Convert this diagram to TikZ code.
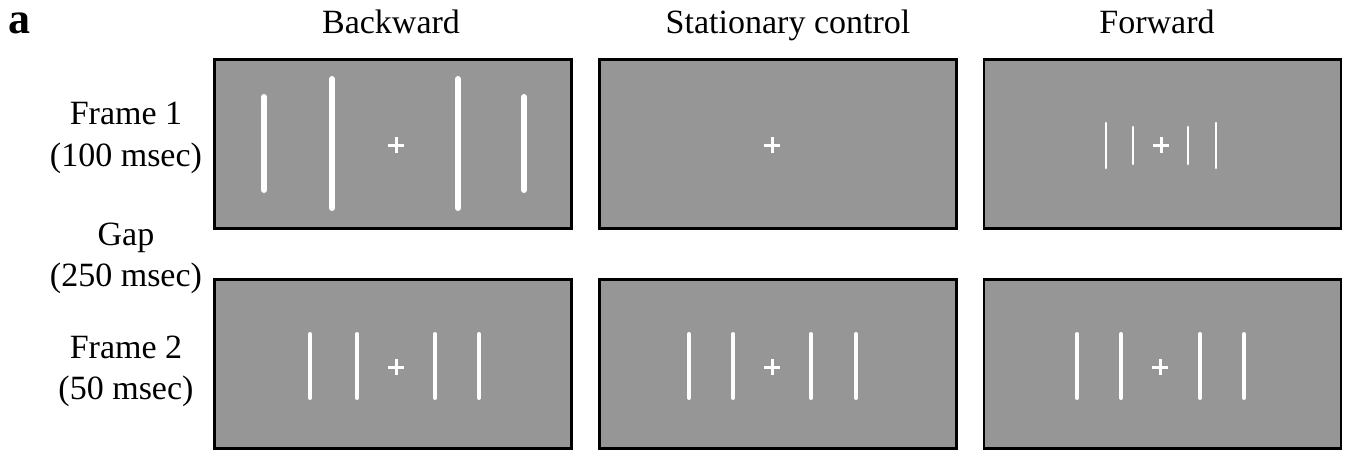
\documentclass[tikz,border=0pt]{standalone}
\usepackage{fontspec}
\setmainfont{Liberation Serif}
\begin{document}
\begin{tikzpicture}[
  x=1pt,
  y=-1pt,
  screen/.style={rectangle,draw=black,fill=screengray,line width=2.5pt,
    minimum width=357pt,minimum height=169pt,inner sep=0pt},
  label/.style={anchor=base,inner sep=0pt,font=\fontsize{34}{40}\selectfont},
  bigbar/.style={draw=white,line width=6pt,line cap=round},
  thinbar/.style={draw=white,line width=2.5pt,line cap=round},
  midbar/.style={draw=white,line width=4pt,line cap=round},
  fixation/.style={draw=white,line width=3pt}
]
  \definecolor{screengray}{RGB}{150,150,150}
  \useasboundingbox (0,0) rectangle (1345,453);

  % panel letter and column titles
  \node[label,anchor=base west,font=\fontsize{44}{48}\selectfont\bfseries] (panel) at (8,33) {a};
  \node[label] (tback) at (391,33) {Backward};
  \node[label] (tstat) at (788,33) {Stationary control};
  \node[label] (tforw) at (1157,33) {Forward};

  % row labels
  \node[label] (f1a) at (126,124) {Frame 1};
  \node[label] (f1b) at (126,166) {(100 msec)};
  \node[label] (gpa) at (126,245) {Gap};
  \node[label] (gpb) at (126,286) {(250 msec)};
  \node[label] (f2a) at (126,358) {Frame 2};
  \node[label] (f2b) at (126,399) {(50 msec)};

  % screens
  \node[screen] (back1) at (393,144) {};
  \node[screen] (stat1) at (778,144) {};
  \node[screen] (forw1) at (1162.5,144) {};
  \node[screen] (back2) at (393,364) {};
  \node[screen] (stat2) at (778,364) {};
  \node[screen] (forw2) at (1162.5,364) {};

  % frame 1, backward
  \draw[bigbar] (264,97)--(264,190);
  \draw[bigbar] (332,79)--(332,208);
  \draw[bigbar] (458,79)--(458,208);
  \draw[bigbar] (524,97)--(524,190);
  \draw[fixation] (388,145)--(404,145) (396,137)--(396,153);

  % frame 1, stationary control
  \draw[fixation] (764,145)--(780,145) (772,137)--(772,153);

  % frame 1, forward
  \draw[thinbar] (1106,123)--(1106,168);
  \draw[thinbar] (1133,127)--(1133,164);
  \draw[thinbar] (1188,127)--(1188,164);
  \draw[thinbar] (1216,123)--(1216,168);
  \draw[fixation] (1153,145)--(1169,145) (1161,137)--(1161,153);

  % frame 2
  \foreach \xa/\xb/\xc/\xd/\xf in {310/357/435/479/396,689/733/811/856/772,1077/1121/1200/1244/1160}{
    \draw[midbar] (\xa,334)--(\xa,398) (\xb,334)--(\xb,398)
      (\xc,334)--(\xc,398) (\xd,334)--(\xd,398);
    \draw[fixation] (\xf-8,367)--(\xf+8,367) (\xf,359)--(\xf,375);
  }
\end{tikzpicture}
\end{document}
